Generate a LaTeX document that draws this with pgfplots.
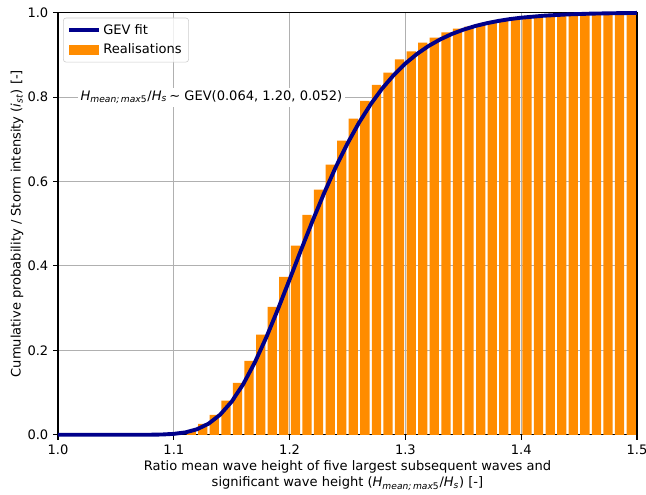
\documentclass[border=0pt]{standalone}
\usepackage{pgfplots}
\pgfplotsset{compat=1.18}
\usepackage{fontspec}
\setmainfont{DejaVu Sans}

\definecolor{gevblue}{RGB}{0,0,139}
\definecolor{barorange}{RGB}{255,140,0}
\definecolor{gridgray}{RGB}{176,176,176}

\newcommand{\Hm}{\textit{H}\textsubscript{\textit{mean;\,max}5}}

\begin{document}
\begin{tikzpicture}[font=\fontsize{9.4}{11.6}\selectfont]
  \begin{axis}[
    width=416.9pt, height=304pt, scale only axis,
    xmin=1.0, xmax=1.5, ymin=0, ymax=1,
    xtick={1.0,1.1,1.2,1.3,1.4,1.5},
    ytick={0,0.2,0.4,0.6,0.8,1.0},
    scaled ticks=false,
    xticklabel style={/pgf/number format/fixed, /pgf/number format/precision=1, /pgf/number format/fixed zerofill},
    yticklabel style={/pgf/number format/fixed, /pgf/number format/precision=1, /pgf/number format/fixed zerofill},
    /pgf/number format/assume math mode=true,
    xmajorgrids, ymajorgrids,
    grid style={gridgray, line width=0.8pt},
    tick align=outside, major tick length=3.5pt,
    tick style={black, line width=0.8pt},
    xtick pos=lower, ytick pos=left,
    axis line style={line width=0.8pt},
    clip=false,
    xlabel={Ratio mean wave height of five largest subsequent waves and\\significant wave height (\Hm/\textit{H}\textsubscript{\textit{s}}) [-]},
    xlabel style={align=center, at={(axis description cs:0.5,0)}, anchor=north, yshift=-18.5pt, inner sep=0pt},
    ylabel={Cumulative probability / Storm intensity (\textit{i}\textsubscript{\textit{st}}) [-]},
    ylabel style={at={(axis description cs:-0.071,0.5)}, anchor=center},
    legend style={at={(rel axis cs:0.0086,0.988)}, anchor=north west,
      draw=black!20, rounded corners=2pt, fill=white, fill opacity=0.8, text opacity=1,
      inner xsep=3pt, inner ysep=2.5pt, row sep=1.5pt},
    legend cell align=left,
  ]
  % empirical cumulative frequencies, one bar per 0.01 bin
  \addplot[ybar, bar width=0.008, fill=barorange, draw=none, forget plot]
    coordinates {
    (1.115,0.011) (1.125,0.026) (1.135,0.047) (1.145,0.081) (1.155,0.123)
    (1.165,0.175) (1.175,0.237) (1.185,0.303) (1.195,0.374) (1.205,0.448)
    (1.215,0.521) (1.225,0.581) (1.235,0.640) (1.245,0.697) (1.255,0.749)
    (1.265,0.791) (1.275,0.829) (1.285,0.858) (1.295,0.889) (1.305,0.908)
    (1.315,0.929) (1.325,0.941) (1.335,0.953) (1.345,0.962) (1.355,0.967)
    (1.365,0.973) (1.375,0.978) (1.385,0.982) (1.395,0.984) (1.405,0.987)
    (1.415,0.989) (1.425,0.991) (1.435,0.992) (1.445,0.993) (1.455,0.994)
    (1.465,0.995) (1.475,0.995) (1.485,0.996) (1.495,0.996)
    };

  % GEV fit
  \addplot[gevblue, line width=2.8pt, forget plot]
    coordinates {
    (1.00,0) (1.02,0) (1.04,0) (1.06,0.00001) (1.07,0.00004) (1.08,0.00018)
    (1.09,0.0007) (1.10,0.0022) (1.11,0.0057) (1.12,0.0131) (1.13,0.0263)
    (1.14,0.0476) (1.15,0.0787) (1.16,0.1202) (1.17,0.1717) (1.18,0.2317)
    (1.19,0.2980) (1.20,0.3679) (1.21,0.4387) (1.22,0.5079) (1.23,0.5738)
    (1.24,0.6349) (1.25,0.6902) (1.26,0.7396) (1.27,0.7829) (1.28,0.8204)
    (1.29,0.8524) (1.30,0.8795) (1.31,0.9021) (1.32,0.9210) (1.33,0.9365)
    (1.34,0.9493) (1.35,0.9596) (1.36,0.9680) (1.37,0.9748) (1.38,0.9802)
    (1.39,0.9846) (1.40,0.9880) (1.42,0.9928) (1.44,0.9958) (1.46,0.9976)
    (1.48,0.9986) (1.50,0.9993)
    };

  \addlegendimage{legend image code/.code={\draw[gevblue, line width=2.8pt, draw opacity=1, sharp corners] (0pt,0pt) -- (21pt,0pt);}}
  \addlegendentry{GEV fit}
  \addlegendimage{legend image code/.code={\fill[barorange, fill opacity=1, sharp corners] (0pt,-3pt) rectangle (21pt,3pt);}}
  \addlegendentry{Realisations}

  \node[fill=white, inner sep=2pt] at (axis cs:1.1325,0.8)
    {\Hm/\textit{H}\textsubscript{\textit{s}}\,∼\ GEV(0.064, 1.20, 0.052)};
  \end{axis}
  \pgfresetboundingbox
  \path ([xshift=-41.8pt,yshift=-43.2pt]current axis.south west)
    rectangle ([xshift=6.5pt,yshift=9.1pt]current axis.north east);
\end{tikzpicture}
\end{document}
